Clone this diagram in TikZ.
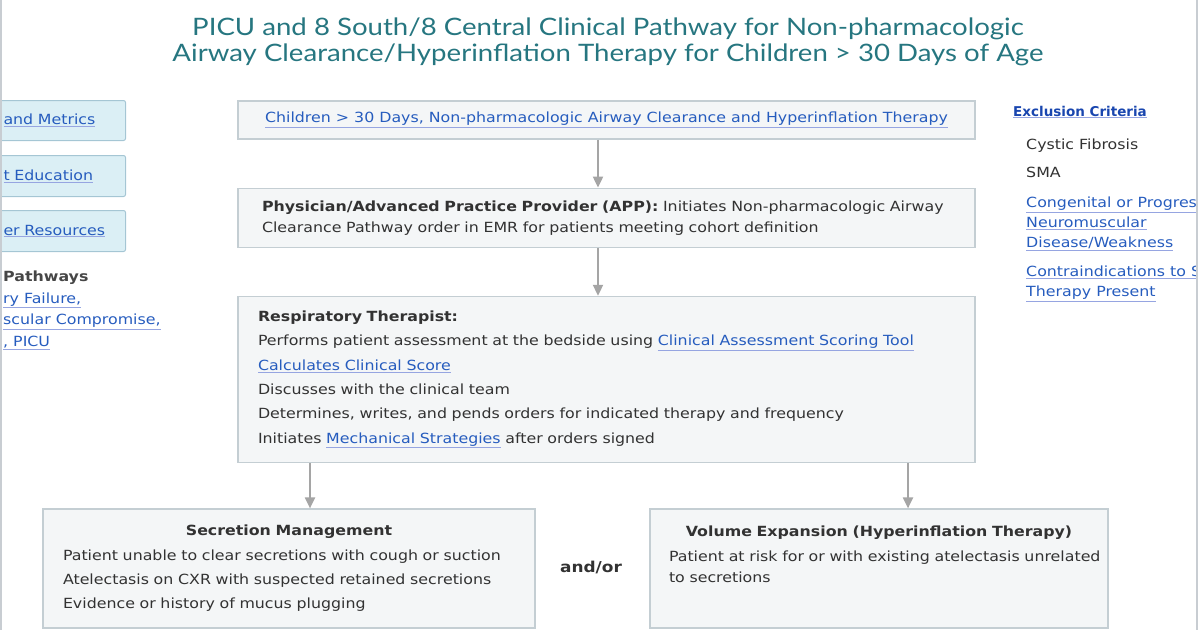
\documentclass[tikz,border=0pt]{standalone}
\usepackage{fontspec}
\setmainfont[FakeStretch=1.13]{DejaVu Sans}
\newfontfamily\plainfont{DejaVu Sans}
\newfontfamily\titlefont[FakeStretch=1.15]{Lato}
\usepackage{xcolor}
\definecolor{Teal}     {RGB}{38, 118, 128}
\definecolor{LinkBlue} {RGB}{38,  92, 190}
\definecolor{LinkLine} {RGB}{150, 165, 225}
\definecolor{ExclBlue} {RGB}{25,  70, 175}
\definecolor{BodyGray} {RGB}{50,  50,  50}
\definecolor{SoftGray} {RGB}{70,  70,  70}
\definecolor{BoxFill}  {RGB}{244, 246, 247}
\definecolor{BoxLine}  {RGB}{196, 206, 211}
\definecolor{NavFill}  {RGB}{219, 239, 245}
\definecolor{NavLine}  {RGB}{165, 198, 212}
\definecolor{ArrGray}  {RGB}{165, 165, 165}
\definecolor{FrameGray}{RGB}{200, 205, 210}
\usepackage{tikz}
\usetikzlibrary{arrows.meta, positioning}

\newcommand{\lnk}[1]{{\color{LinkLine}\underline{\textcolor{LinkBlue}{#1}}}}
\newcommand{\boxtitle}[1]{\hbox to\hsize{\hss\textbf{#1}\hss}}

\begin{document}
\begin{tikzpicture}[x=1pt, y=-1pt, >={Triangle[width=10pt, length=11pt]},
  box/.style={draw=BoxLine, fill=BoxFill, line width=1.2pt,
              font=\fontsize{14}{24.3}\selectfont\color{BodyGray},
              inner ysep=0pt, align=left},
  navbox/.style={draw=NavLine, fill=NavFill, line width=1pt, rounded corners=2pt,
                 minimum height=40pt, text width=114pt, inner xsep=8pt,
                 align=left, font=\fontsize{14}{20}\selectfont},
  side/.style={inner sep=0pt, align=left, font=\fontsize{14}{20}\selectfont},
  flow/.style={->, draw=ArrGray, line width=2pt}
]
  \useasboundingbox (0,0) rectangle (1200,630);

  %% Title
  \node[font=\titlefont\fontsize{24}{26}\selectfont\color{Teal}, align=center]
    (TITLE) at (608,42)
    {PICU and 8 South/8 Central Clinical Pathway for Non-pharmacologic\\
     Airway Clearance/Hyperinflation Therapy for Children > 30 Days of Age};

  %% Main flow
  \node[box, minimum width=737pt, minimum height=38pt, align=center]
    (COHORT) at (606.5,120)
    {\lnk{Children > 30 Days, Non-pharmacologic Airway Clearance and Hyperinflation Therapy}};
  \node[box, minimum height=59pt, text width=689pt, inner xsep=24pt,
        font=\fontsize{14}{21}\selectfont\color{BodyGray}, below=48pt of COHORT]
    (APP)
    {\textbf{Physician/Advanced Practice Provider (APP):} Initiates Non-pharmacologic Airway\\
     Clearance Pathway order in EMR for patients meeting cohort definition};
  \node[box, minimum height=166pt, text width=697pt, inner xsep=20pt, below=48pt of APP]
    (RT)
    {\textbf{Respiratory Therapist:}\\
     Performs patient assessment at the bedside using \lnk{Clinical Assessment Scoring Tool}\\
     \lnk{Calculates Clinical Score}\\
     Discusses with the clinical team\\
     Determines, writes, and pends orders for indicated therapy and frequency\\
     Initiates \lnk{Mechanical Strategies} after orders signed};

  \node[box, minimum height=119pt, text width=452pt, inner xsep=20pt]
    (SECR) at (289,568.5)
    {\boxtitle{Secretion Management}\\
     Patient unable to clear secretions with cough or suction\\
     Atelectasis on CXR with suspected retained secretions\\
     Evidence or history of mucus plugging};
  \node[box, minimum height=119pt, text width=420pt, inner xsep=19pt]
    (VOL) at (879,568.5)
    {\boxtitle{Volume Expansion (Hyperinflation Therapy)}\\[4pt]
     \fontsize{14}{21}\selectfont
     \mbox{Patient at risk for or with existing atelectasis unrelated}\\
     to secretions\\[4pt] \mbox{}};
  \node[font=\fontsize{15}{16}\selectfont\bfseries\color{BodyGray}]
    (ANDOR) at (591,567) {and/or};

  %% Arrows
  \coordinate (spine)  at (598,0);
  \coordinate (lspine) at (310,0);
  \coordinate (rspine) at (908,0);
  \draw[flow] (COHORT.south -| spine)  -- (APP.north -| spine);
  \draw[flow] (APP.south -| spine)     -- (RT.north -| spine);
  \draw[flow] (RT.south -| lspine)     -- (SECR.north -| lspine);
  \draw[flow] (RT.south -| rspine)     -- (VOL.north -| rspine);

  %% Left navigation (cut off)
  \node[navbox, anchor=north west] (METRICS) at (-5,100) {\lnk{and Metrics}};
  \node[navbox, anchor=north west, minimum height=41pt] (EDU) at (-5,155) {\lnk{t Education}};
  \node[navbox, anchor=north west, minimum height=41pt] (RES) at (-5,210) {\lnk{er Resources}};
  \node[side, anchor=north west, font=\fontsize{14}{21.5}\selectfont] (PATHS) at (3,271)
    {\textbf{\color{SoftGray}Pathways}\\
     \lnk{ry Failure,}\\
     \lnk{scular Compromise,}\\
     \lnk{, PICU}};

  %% Right: exclusion criteria (cut off)
  \node[side, anchor=west, font=\plainfont\fontsize{13.5}{20}\selectfont\bfseries]
    (EXCL) at (1013,112) {{\color{LinkLine}\underline{\textcolor{ExclBlue}{Exclusion Criteria}}}};
  \node[side, anchor=north west, font=\fontsize{14}{20}\selectfont\color{BodyGray}]
    (CRIT) at (1026,139)
    {Cystic Fibrosis\\[8pt]
     SMA\\[10pt]
     \lnk{Congenital or Progres}\\
     \lnk{Neuromuscular}\\
     \lnk{Disease/Weakness}\\[9pt]
     \lnk{Contraindications to S}\\
     \lnk{Therapy Present}};

  %% Screenshot frame
  \fill[white] (1198,0) rectangle (1200,630);
  \draw[FrameGray, line width=1.5pt] (1,0) -- (1,630);
  \draw[FrameGray, line width=1.5pt] (1197,0) -- (1197,630);
\end{tikzpicture}
\end{document}
